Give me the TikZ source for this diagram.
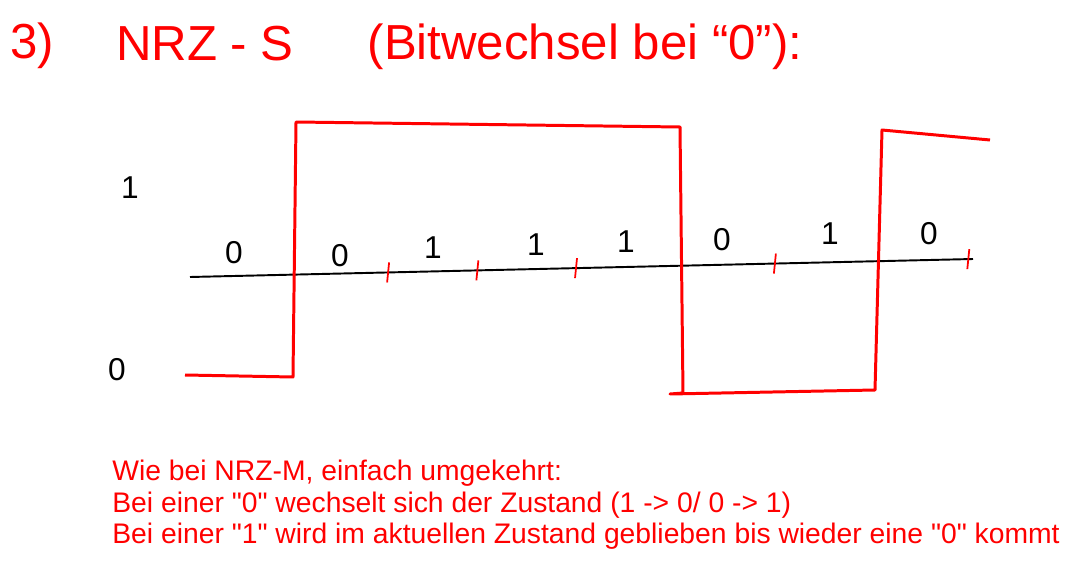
\documentclass[tikz,border=0pt]{standalone}
\usepackage{fontspec}
\setmainfont{Liberation Sans}
\newfontfamily\notefont{Liberation Sans}
\usetikzlibrary{calc}

\begin{document}
\begin{tikzpicture}[x=0.02cm, y=-0.02cm,
    signal/.style={red, line width=1.7pt, line join=round},
    bitmark/.style={red, line width=1pt},
    bit/.style={font=\fontsize{18}{18}\selectfont, inner sep=0pt},
    title/.style={red, font=\fontsize{28}{28}\selectfont, inner sep=0pt}]

    \useasboundingbox (0,0) rectangle (1082,571);

    % heading
    \node[title] (num)   at (32,46)  {3)};
    \node[title] (code)  at (205,44) {NRZ - S};
    \node[title] (descr) at (585,47) {(Bitwechsel bei “0”):};

    % levels
    \node[bit] (lvlhi) at (130,188) {1};
    \node[bit] (lvllo) at (117,370) {0};

    % time axis
    \coordinate (ax0) at (190,277);
    \coordinate (ax1) at (973,259);
    \draw[line width=1.1pt] (ax0) -- (ax1);

    \foreach \t in {0.253,0.367,0.493,0.747,0.994}
      \draw[bitmark] ($(ax0)!\t!(ax1)+(-1,10)$) -- ++(2,-20);

    % bits
    \foreach \x/\y/\b [count=\i] in {234/253/0, 340/256/0, 433/248/1, 536/245/1,
                                     626/242/1, 722/240/0, 830/234/1, 929/234/0}
      \node[bit] (b\i) at (\x,\y) {\b};

    % signal
    \draw[signal] (185,375) -- (293,377) -- (296,122) -- (680,127)
      -- (683,393) -- (670,394) -- (875,390) -- (882,130) -- (990,140);

    \node[red, anchor=north west, align=left, inner sep=0pt,
          font=\notefont\fontsize{16.1}{17.9}\selectfont] (note) at (112,460)
      {Wie bei NRZ-M, einfach umgekehrt:\\
       Bei einer "0" wechselt sich der Zustand (1 -> 0/ 0 -> 1)\\
       Bei einer "1" wird im aktuellen Zustand geblieben bis wieder eine "0" kommt};

\end{tikzpicture}
\end{document}
